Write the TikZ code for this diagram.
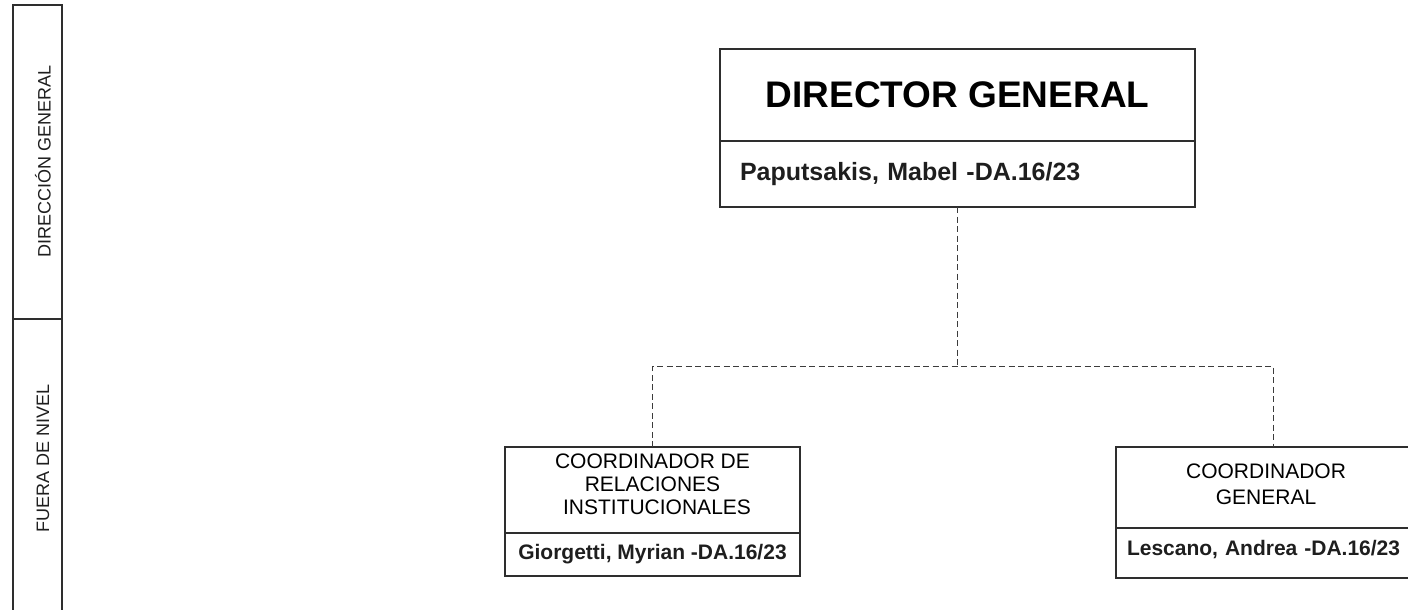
\documentclass[tikz,border=0pt]{standalone}
\usepackage{fontspec}
\setmainfont{Liberation Sans}
\definecolor{linec}{HTML}{2E2E2E}
\definecolor{dashc}{HTML}{3C3C3C}
\definecolor{txtc}{HTML}{1E1E1E}
\begin{document}
\begin{tikzpicture}[x=1pt,y=-1pt,
  frame/.style={draw=linec, line width=1.3pt, inner sep=0pt, outer sep=0pt},
  conn/.style={draw=dashc, line width=1pt, dash pattern=on 6pt off 3.5pt},
  bandline/.style={draw=linec, line width=1.3pt},
  bandtext/.style={rotate=90, font=\fontsize{18}{20}\selectfont, text=txtc, inner sep=0pt},
  titlefont/.style={font=\fontsize{37}{44}\selectfont\bfseries},
  namefont/.style={font=\fontsize{#1}{#1}\selectfont\bfseries, text=txtc},
  rolefont/.style={font=\fontsize{21}{#1}\selectfont, text=black}
]
\useasboundingbox (0,0) rectangle (1408,610);
\clip (0,0) rectangle (1408,610);

% left band
\draw[bandline] (13,5) rectangle (62,640);
\draw[bandline] (13,319) -- (62,319);
\node[bandtext] (lblA) at (43,161.5) {DIRECCIÓN GENERAL};
\node[bandtext] (lblB) at (43,458) {FUERA DE NIVEL};

% director
\node[frame, titlefont, minimum width=475pt, minimum height=92pt] (dirT) at (957.5,95) {DIRECTOR GENERAL};
\node[frame, namefont=25, minimum width=475pt, minimum height=66pt, align=left, text width=435pt, inner xsep=20pt] (dirB) at (957.5,174) {Paputsakis, Mabel -DA.16/23};

% left coordinator
\node[frame, rolefont=23, minimum width=295pt, minimum height=86pt, align=center, text depth=12pt] (lT) at (652.5,490) {COORDINADOR DE\\RELACIONES\\\hspace*{9pt}INSTITUCIONALES};
\node[frame, namefont=21, minimum width=295pt, minimum height=43pt] (lB) at (652.5,554.5) {Giorgetti, Myrian -DA.16/23};

% right coordinator
\node[frame, rolefont=26, minimum width=300pt, minimum height=81pt, align=center, text depth=7pt] (rT) at (1266,487.5) {COORDINADOR\\GENERAL};
\node[frame, namefont=21, minimum width=300pt, minimum height=50pt, align=left, text width=278pt, inner xsep=11pt, text depth=10pt] (rB) at (1266,553) {Lescano, Andrea -DA.16/23};

% connectors
\coordinate (j) at (957.5,366);
\coordinate (jl) at (652.5,366);
\coordinate (jr) at (1273,366);
\draw[conn] (dirB.south) -- (j);
\draw[conn] (lT.north) -- (jl) -- (jr) -- ([xshift=7pt]rT.north);
\end{tikzpicture}
\end{document}
